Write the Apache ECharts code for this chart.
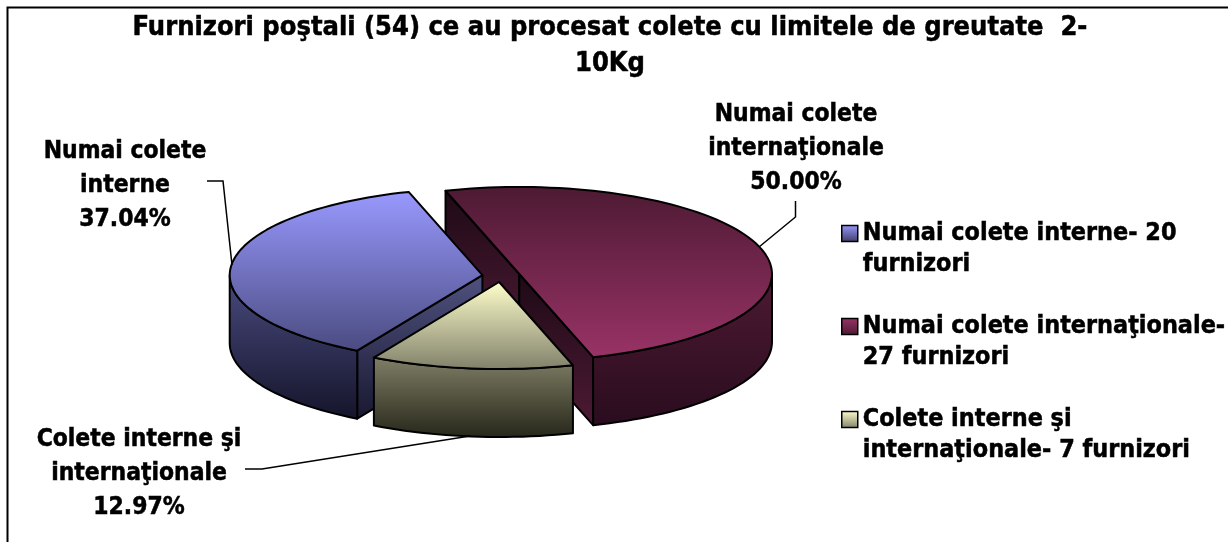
<!DOCTYPE html>
<html>
<head>
<meta charset="utf-8">
<script src="https://cdn.jsdelivr.net/npm/echarts@6/dist/echarts.min.js"></script>
<style>html,body{margin:0;padding:0;background:#fff}#c{width:1228px;height:542px}</style>
</head>
<body>
<div id="c"></div>
<script>
const titleText = 'Furnizori poştali (54) ce au procesat colete cu limitele de greutate  2-\n10Kg';
const sliceNames = ['Numai colete\ninterne', 'Numai colete\ninternaţionale', 'Colete interne şi\ninternaţionale'];
const legendNames = ['Numai colete interne- 20\nfurnizori', 'Numai colete internaţionale-\n27 furnizori', 'Colete interne şi\ninternaţionale- 7 furnizori'];
const shares = [37.04, 50.00, 12.97];

const FONT = '"DejaVu Sans Condensed","DejaVu Sans",sans-serif';
const pie = {cx: 501.2, cy: 275.8, rx: 252.7, ry: 87, depth: 68, exX: 18.9, exY: 6.25, startDeg: 119.7};
const labelPos = [[125, 186], [796, 149], [139, 474]];
const leaders = [
  [[207, 181], [223, 181], [232, 265]],
  [[795.5, 201], [795.5, 217], [759, 247]],
  [[245, 469], [262, 469], [470, 436]]
];
const zOrder = [2, 1, 3];
const grad = (a, b) => ({type: 'linear', x: 0, y: 0, x2: 0, y2: 1, colorStops: [{offset: 0, color: a}, {offset: 1, color: b}]});
const paints = [
  {top: grad('#9999ff', '#4a4b80'), cut: grad('#50527f', '#181830'), side: grad('#4a4b80', '#14142a')},
  {top: grad('#4d1a33', '#993366'), cut: grad('#1e0a17', '#4d1a33'), side: grad('#4d1a33', '#2a0c1f')},
  {top: grad('#ffffcc', '#80806a'), cut: grad('#807f66', '#26261a'), side: grad('#807f66', '#26261a')}
];
const legendSwatch = [grad('#9999ff', '#3c3c66'), grad('#993366', '#4d1a33'), grad('#ffffcc', '#80806a')];

const total = shares.reduce((s, v) => s + v, 0);
const RAD = Math.PI / 180;

function sliceShapes(idx, value) {
  let a0 = pie.startDeg;
  for (let i = 0; i < idx; i++) a0 += shares[i] / total * 360;
  const a1 = a0 + value / total * 360;
  const mid = (a0 + a1) / 2 * RAD;
  const ox = pie.cx + pie.exX * Math.cos(mid);
  const oy = pie.cy + pie.exY * Math.sin(mid);
  const pt = (deg, dz) => [ox + pie.rx * Math.cos(deg * RAD), oy + pie.ry * Math.sin(deg * RAD) + dz];
  const arc = (from, to, dz) => {
    const out = [], n = Math.max(2, Math.ceil((to - from) / 2));
    for (let k = 0; k <= n; k++) out.push(pt(from + (to - from) * k / n, dz));
    return out;
  };
  const edge = {stroke: '#000', lineWidth: 2, lineJoin: 'round'};
  const poly = (points, fill) => ({type: 'polygon', shape: {points}, style: Object.assign({fill}, edge)});
  const p = paints[idx], kids = [];
  // cut walls, only those that face the viewer
  [[a0, -90], [a1, 90]].forEach(([a, n]) => {
    if (Math.sin((a + n) * RAD) <= 0) return;
    const e = pt(a, 0), c = [ox, oy];
    kids.push(poly([c, e, [e[0], e[1] + pie.depth], [ox, oy + pie.depth]], p.cut));
  });
  // rim: only the part of the arc that faces the viewer (0..180 deg, mod 360)
  for (const sh of [0, 360, -360]) {
    const from = Math.max(a0, sh), to = Math.min(a1, sh + 180);
    if (to > from) {
      const up = arc(from, to, 0), down = arc(from, to, pie.depth).reverse();
      kids.push(poly(up.concat(down), p.side));
    }
  }
  // top face
  kids.push(poly([[ox, oy]].concat(arc(a0, a1, 0)), p.top));
  return kids;
}

function leaderAndLabel(idx, value) {
  return [
    {type: 'polyline', shape: {points: leaders[idx]}, style: {fill: null, stroke: '#000', lineWidth: 1.5}},
    {type: 'text', x: labelPos[idx][0], y: labelPos[idx][1],
     style: {text: sliceNames[idx] + '\n' + value.toFixed(2) + '%', fill: '#000', font: 'bold 24.4px ' + FONT,
             align: 'center', verticalAlign: 'middle', lineHeight: 34, stroke: '#000', lineWidth: 0.5}}
  ];
}

const series = legendNames.map((name, i) => ({
  type: 'custom',
  name,
  coordinateSystem: 'none',
  z: zOrder[i],
  silent: true,
  animation: false,
  data: [[shares[i]]],
  renderItem: (params, api) => ({type: 'group', children: sliceShapes(i, api.value(0)).concat(leaderAndLabel(i, api.value(0)))})
}));

const chart = echarts.init(document.getElementById('c'), null, {renderer: 'canvas'});
chart.setOption({
  animation: false,
  backgroundColor: '#fff',
  title: {
    text: titleText, left: 605, top: 5, textAlign: 'center',
    textStyle: {fontFamily: FONT, fontWeight: 'bold', fontSize: 27, lineHeight: 36, color: '#000', textBorderColor: '#000', textBorderWidth: 0.5}
  },
  legend: {
    orient: 'vertical', left: 841, top: 187, padding: 0, itemGap: 0, itemWidth: 16, itemHeight: 16, selectedMode: false,
    icon: 'rect',
    data: legendNames.map((name, i) => ({name, itemStyle: {color: legendSwatch[i], borderColor: '#000', borderWidth: 1.5}})),
    formatter: n => '\n' + n,
    textStyle: {fontFamily: FONT, fontWeight: 'bold', fontSize: 24.9, lineHeight: 31, color: '#000', textBorderColor: '#000', textBorderWidth: 0.5}
  },
  graphic: [
    {type: 'polyline', shape: {points: [[7.5, 542], [7.5, 7.5], [1228, 7.5]]}, style: {fill: null, stroke: '#000', lineWidth: 2}, silent: true}
  ],
  series
});
</script>
</body>
</html>
